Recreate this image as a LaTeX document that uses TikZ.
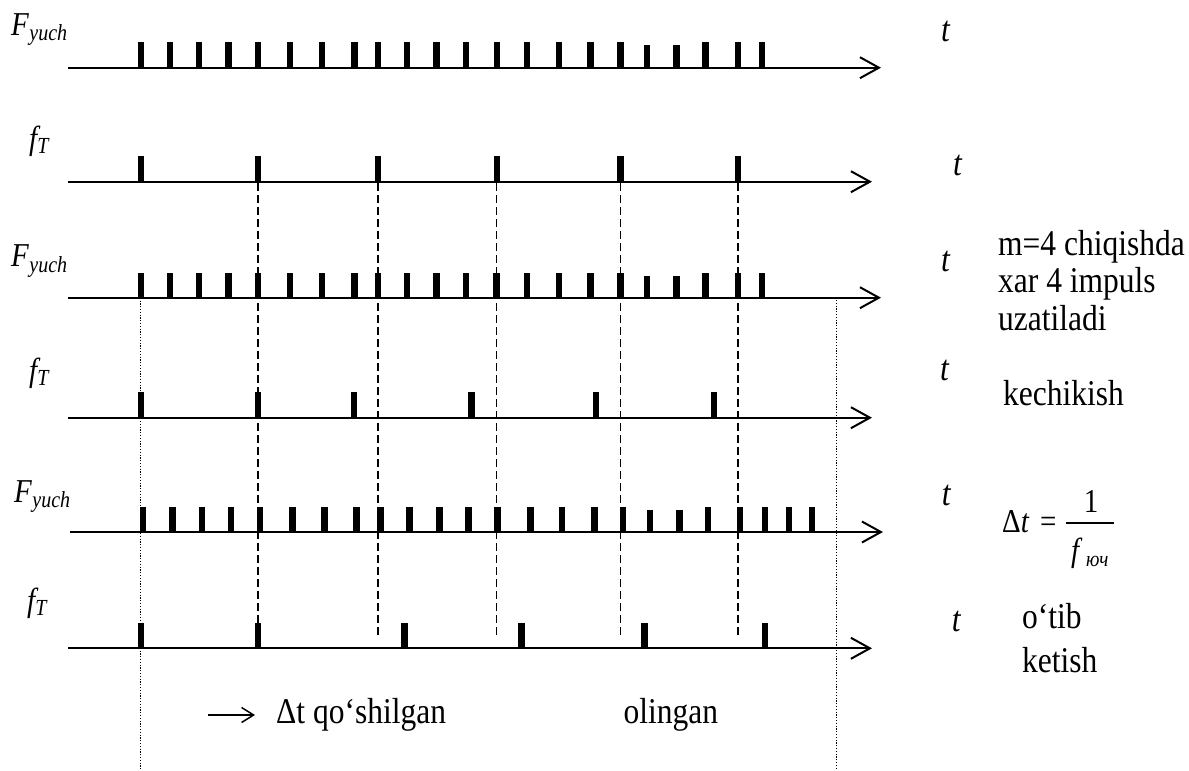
\documentclass[tikz,border=0pt]{standalone}
\usepackage{fontspec}
\setmainfont{Liberation Serif}
\usepackage{graphicx}
\usetikzlibrary{arrows.meta}
\newcommand\mypulses[3]{\foreach \x in {#3} {\fill (\x-3.2,#1) rectangle (\x+3.2,#2);}}
\newcommand\vs[1]{\scalebox{1}[1.15]{#1}}
\begin{document}
\begin{tikzpicture}[x=1pt,y=-1pt,
  axis/.style={line width=2pt,-{Straight Barb[length=19pt,width=21pt]}},
  sync/.style={line width=1.6pt,dash pattern=on 7.5pt off 4.5pt},
  bound/.style={line width=1pt,dash pattern=on 1.2pt off 1.6pt},
  lbl/.style={inner sep=0pt,anchor=base west,font=\fontsize{31.5}{38}\selectfont},
  sig/.style={inner sep=0pt,anchor=base west,font=\fontsize{29}{32}\selectfont\itshape},
  tl/.style={inner sep=0pt,anchor=base west,font=\fontsize{31.5}{36}\selectfont\itshape},
  eq/.style={inner sep=0pt,font=\fontsize{29}{32}\selectfont},
]
\useasboundingbox (0,0) rectangle (1189,771);

% ---- axes
\coordinate (a1s) at (68,67.7);  \coordinate (a1e) at (881,67.7);
\coordinate (a2s) at (68,181.7); \coordinate (a2e) at (872,181.7);
\coordinate (a3s) at (68,297.7); \coordinate (a3e) at (881,297.7);
\coordinate (a4s) at (68,417.7); \coordinate (a4e) at (872,417.7);
\coordinate (a5s) at (70,532);   \coordinate (a5e) at (883,532);
\coordinate (a6s) at (68,648.3); \coordinate (a6e) at (872,648.3);
\foreach \i in {1,...,6} {\draw[axis] (a\i s) -- (a\i e);}

% ---- pulses
\mypulses{67.7}{41.7}{140.7,169.7,198.7,228.5,257.7,289.7,321.7,354.3,377.7,407.2,436.3,466.1,497,527,559.1,590.5,620.4,705.4,737.7,761.7}
\mypulses{67.7}{44.7}{647.2,676.3}
\mypulses{181.7}{156}{140.7,257.7,377.7,496.8,620.4,737.7}
\mypulses{297.7}{273}{140.7,169.7,198.7,228.5,257.7,289.7,321.7,354.3,377.7,407.2,436.3,466.1,496.5,527,559.1,590.5,620.4,705.4,737.7,761.7}
\mypulses{297.7}{276}{647.2,676.3}
\mypulses{417.7}{392.3}{140.7,257.7,354,471.5,596,714}
\mypulses{532}{506.7}{142.9,172.3,201.7,231.2,260,292.3,324.3,356.3,380.3,409.5,439.3,468.4,497.5,530.4,562.2,594.3,622.7,708.2,740,764.9,788.9,812.2}
\mypulses{532}{509.7}{649.9,679.4}
\mypulses{648.3}{623.3}{140.7,257.7,404.4,521.6,644.5,764.9}

% ---- dashed sync lines
\coordinate (d1t) at (257.7,183); \coordinate (d1b) at (257.7,623.3);
\coordinate (d2t) at (377.7,183); \coordinate (d2b) at (377.7,636);
\coordinate (d3t) at (496.3,183); \coordinate (d3b) at (496.3,636);
\coordinate (d4t) at (620.4,183); \coordinate (d4b) at (620.4,636);
\coordinate (d5t) at (737.7,183); \coordinate (d5b) at (737.7,636);
\foreach \i in {1,...,5} {\draw[sync] (d\i t) -- (d\i b);}

% ---- dotted bounds
\coordinate (b1t) at (140.7,297.7); \coordinate (b1b) at (140.7,771);
\coordinate (b2t) at (836.5,300);   \coordinate (b2b) at (836.5,768);
\draw[bound] (b1t) -- (b1b);
\draw[bound] (b2t) -- (b2b);

% ---- signal labels
\node[sig] (s1) at (11,35)  {\vs{F\kern0.5pt\raisebox{-5pt}{\fontsize{20}{22}\selectfont yuch}}};
\node[sig] (s2) at (29,149) {\vs{f\raisebox{-3.5pt}{\fontsize{20}{22}\selectfont T}}};
\node[sig] (s3) at (11,266.5) {\vs{F\kern0.5pt\raisebox{-5pt}{\fontsize{20}{22}\selectfont yuch}}};
\node[sig] (s4) at (29,381) {\vs{f\raisebox{-3.5pt}{\fontsize{20}{22}\selectfont T}}};
\node[sig] (s5) at (14,502) {\vs{F\kern0.5pt\raisebox{-5pt}{\fontsize{20}{22}\selectfont yuch}}};
\node[sig] (s6) at (27,611) {\vs{f\raisebox{-3.5pt}{\fontsize{20}{22}\selectfont T}}};

% ---- t labels
\node[tl] (t1) at (941,41.7) {\vs{t}};
\node[tl] (t2) at (953,175) {\vs{t}};
\node[tl] (t3) at (941,271.7) {\vs{t}};
\node[tl] (t4) at (940,380) {\vs{t}};
\node[tl] (t5) at (941.7,505) {\vs{t}};
\node[tl] (t6) at (951.7,631.7) {\vs{t}};

% ---- right notes
\node[lbl] (m1) at (998,255) {\vs{m=4 chiqishda}};
\node[lbl] (m2) at (998,292) {\vs{xar 4 impuls}};
\node[lbl] (m3) at (998,330) {\vs{uzatiladi}};
\node[lbl] (k1) at (1003,405) {\vs{kechikish}};
\node[lbl] (o1) at (1022,628) {\vs{o‘tib}};
\node[lbl] (o2) at (1022,672) {\vs{ketish}};

% ---- formula  Delta t = 1 / f_yuch
\node[eq,anchor=base west] (eqa) at (1002,532) {\vs{Δ\textit{t}}};
\node[eq,anchor=base west] (eqb) at (1040,532) {\vs{=}};
\node[eq,anchor=base] (eqn) at (1091,512) {\vs{1}};
\coordinate (fb1) at (1066,523); \coordinate (fb2) at (1114,523);
\draw[line width=1.3pt] (fb1) -- (fb2);
\node[eq,anchor=base west] (eqf) at (1071,561) {\vs{\textit{f}}};
\node[inner sep=0pt,anchor=base west,font=\fontsize{19}{22}\selectfont\itshape] (eqs) at (1086,566) {\vs{юч}};

% ---- bottom notes
\coordinate (ar1) at (208,715);
\coordinate (ar2) at (255,715);
\draw[line width=1.5pt,-{Straight Barb[length=12pt,width=15pt]}] (ar1) -- (ar2);
\node[lbl] (q1) at (276,723) {\vs{Δt qo‘shilgan}};
\node[lbl] (q2) at (623.5,723) {\vs{olingan}};
\end{tikzpicture}
\end{document}
